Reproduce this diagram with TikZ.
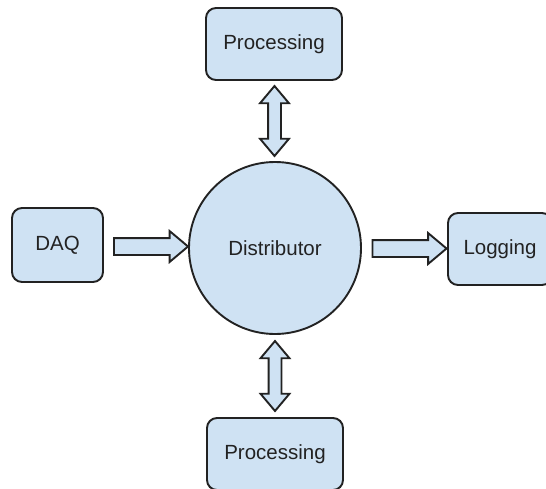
\documentclass[tikz,border=0pt]{standalone}
\usepackage{fontspec}
\setsansfont{Liberation Sans}
\usetikzlibrary{shapes.arrows,calc}
\definecolor{FillBox}{RGB}{207,226,243}
\definecolor{EdgeBox}{RGB}{34,34,34}

\begin{document}
\begin{tikzpicture}[x=1pt, y=-1pt,
    block/.style={draw=EdgeBox, line width=1.9pt, rounded corners=10pt, fill=FillBox, minimum width=136pt, minimum height=72pt, align=center, text=EdgeBox, font=\sffamily\fontsize{20.5}{24}\selectfont},
    hub/.style={draw=EdgeBox, line width=1.9pt, circle, fill=FillBox, minimum size=172pt, inner sep=0pt, text=EdgeBox, font=\sffamily\fontsize{20.5}{24}\selectfont},
    fatarr/.style={single arrow, draw=EdgeBox, line width=1.9pt, fill=FillBox, inner xsep=0pt, inner ysep=7.5pt, single arrow head extend=7pt, single arrow tip angle=80, minimum height=74pt},
    duplex/.style={double arrow, draw=EdgeBox, line width=1.9pt, fill=FillBox, inner xsep=0pt, inner ysep=5.5pt, double arrow head extend=8pt, double arrow tip angle=80, minimum height=70pt, rotate=90}
  ]
  \useasboundingbox (0,0) rectangle (546,488);
  \clip (0,0) rectangle (546,488);

  \node[hub]   (dist)    at (275,248) {Distributor};
  \node[block] (proctop) at (274,44)  {Processing};
  \node[block] (procbot) at (275,454) {Processing};
  \node[block, minimum width=91pt, minimum height=74pt] (daq) at (57.5,245) {DAQ};
  \node[block, minimum width=104pt] (logging) at (500,249) {Logging};

  % block arrows sit halfway between the shapes they join
  \node[fatarr] (daqarr) at ($(daq.east)!0.5!(dist.west)$) {};
  \node[fatarr] (logarr) at ($(dist.east)!0.5!(logging.west)$) {};
  \node[duplex] (toparr) at ($(proctop.south)!0.5!(dist.north)$) {};
  \node[duplex] (botarr) at ($(dist.south)!0.5!(procbot.north)$) {};
\end{tikzpicture}
\end{document}
